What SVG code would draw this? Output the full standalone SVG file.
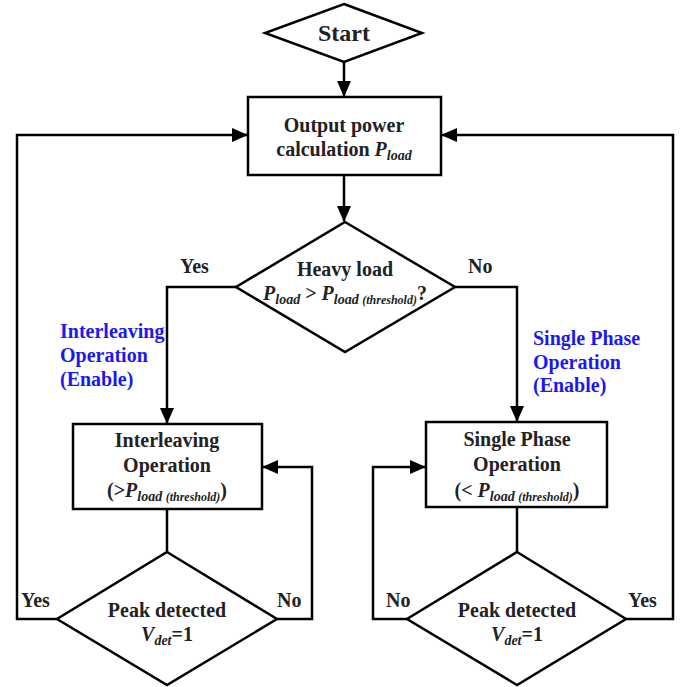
<svg xmlns="http://www.w3.org/2000/svg" width="689" height="687" viewBox="0 0 689 687">
<defs>
<marker id="arr" markerUnits="userSpaceOnUse" markerWidth="16" markerHeight="14" refX="15" refY="7" orient="auto">
<path d="M0,0 L16,7 L0,14 Z" fill="#000"/>
</marker>
<style>
.shape{fill:#fff;stroke:#000;stroke-width:2.5}
.line{fill:none;stroke:#000;stroke-width:2.5}
.t{font-family:"Liberation Serif","Times New Roman",serif;font-weight:bold;font-size:20px;fill:#222}
.c{text-anchor:middle}
.blue{fill:#1a1aee}
.i{font-style:italic}
.sub{font-style:italic;font-size:14px}
.sub2{font-style:italic;font-size:12px}
</style>
</defs>
<rect width="689" height="687" fill="#fff"/>
<g id="connectors">
<path class="line" d="M344,62 V96" marker-end="url(#arr)"/>
<path class="line" d="M57,619 H17 V135 H247" marker-end="url(#arr)"/>
<path class="line" d="M626,619 H673 V135 H442" marker-end="url(#arr)"/>
<path class="line" d="M344,175 V221" marker-end="url(#arr)"/>
<path class="line" d="M236,287 H167 V423" marker-end="url(#arr)"/>
<path class="line" d="M455,287 H517 V421" marker-end="url(#arr)"/>
<path class="line" d="M167,509 V552"/>
<path class="line" d="M277,619 H312 V467 H263" marker-end="url(#arr)"/>
<path class="line" d="M517,507 V552"/>
<path class="line" d="M407,619 H373 V467 H425" marker-end="url(#arr)"/>
</g>
<g id="start">
<polygon class="shape" points="344,4 422,33 344,62 265,33"/>
<text class="t c" x="344" y="41" style="font-size:24px">Start</text>
</g>
<g id="output">
<rect class="shape" x="248" y="97" width="193" height="78"/>
<text class="t c" x="344" y="132">Output power</text>
<text class="t c" x="344" y="156">calculation <tspan class="i">P</tspan><tspan class="sub" dy="4">load</tspan></text>
</g>
<g id="heavy">
<polygon class="shape" points="345,222 455,287 345,352 236,287"/>
<text class="t c" x="345" y="276">Heavy load</text>
<text class="t c" x="345" y="300"><tspan class="i">P</tspan><tspan class="sub" dy="4">load</tspan><tspan dy="-4"> &gt; </tspan><tspan class="i">P</tspan><tspan class="sub" dy="4">load </tspan><tspan class="sub2">(threshold)</tspan><tspan dy="-4">?</tspan></text>
</g>
<g id="labels">
<text class="t" x="180" y="273">Yes</text>
<text class="t" x="468" y="273">No</text>
<text class="t blue" x="60" y="338">Interleaving</text>
<text class="t blue" x="60" y="362">Operation</text>
<text class="t blue" x="60" y="386">(Enable)</text>
<text class="t blue" x="533" y="345">Single Phase</text>
<text class="t blue" x="533" y="369">Operation</text>
<text class="t blue" x="533" y="392">(Enable)</text>
<text class="t" x="21" y="607">Yes</text>
<text class="t" x="277" y="607">No</text>
<text class="t" x="386" y="607">No</text>
<text class="t" x="628" y="607">Yes</text>
</g>
<g id="interleaving">
<rect class="shape" x="73" y="424" width="189" height="85"/>
<text class="t c" x="167" y="447">Interleaving</text>
<text class="t c" x="167" y="472">Operation</text>
<text class="t c" x="167" y="497">(&gt;<tspan class="i">P</tspan><tspan class="sub" dy="4">load </tspan><tspan class="sub2">(threshold)</tspan><tspan dy="-4">)</tspan></text>
</g>
<g id="single">
<rect class="shape" x="426" y="422" width="181" height="85"/>
<text class="t c" x="517" y="446">Single Phase</text>
<text class="t c" x="517" y="471">Operation</text>
<text class="t c" x="517" y="497">(&lt; <tspan class="i">P</tspan><tspan class="sub" dy="4">load </tspan><tspan class="sub2">(threshold)</tspan><tspan dy="-4">)</tspan></text>
</g>
<g id="peak-left">
<polygon class="shape" points="167,552 277,619 167,685 57,619"/>
<text class="t c" x="167" y="617">Peak detected</text>
<text class="t c" x="167" y="641"><tspan class="i">V</tspan><tspan class="sub" dy="4">det</tspan><tspan dy="-4">=1</tspan></text>
</g>
<g id="peak-right">
<polygon class="shape" points="517,552 626,619 517,685 407,619"/>
<text class="t c" x="517" y="617">Peak detected</text>
<text class="t c" x="517" y="641"><tspan class="i">V</tspan><tspan class="sub" dy="4">det</tspan><tspan dy="-4">=1</tspan></text>
</g>
</svg>
